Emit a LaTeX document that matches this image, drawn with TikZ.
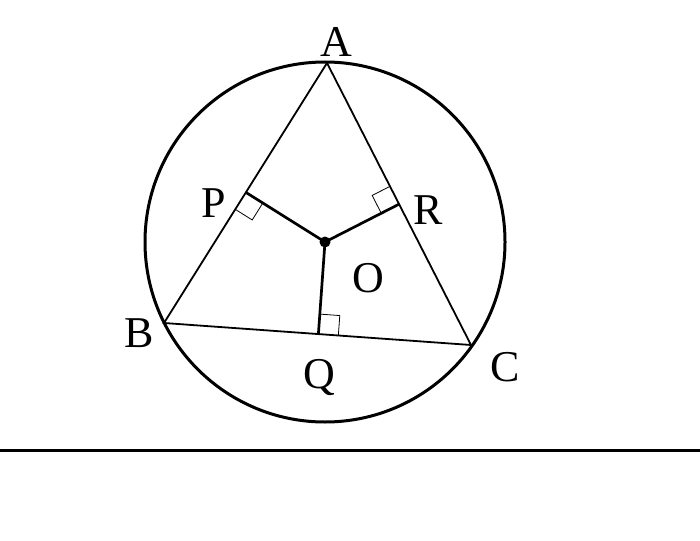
\documentclass[tikz,border=0pt]{standalone}
\usepackage{fontspec}
\setmainfont{Liberation Serif}
\usetikzlibrary{calc}

\tikzset{
  pt label/.style={font=\fontsize{44}{44}\selectfont, inner sep=0pt},
  side line/.style={line width=1.8pt},
  foot line/.style={line width=2.7pt},
  mark line/.style={line width=0.8pt}
}
\newcommand\perpmark[3]{%
  \coordinate (m1) at ($(#1)!20pt!(#2)$);
  \coordinate (m2) at ($(#1)!20pt!(#3)$);
  \draw [mark line](m1) -- ($(m1)+(m2)-(#1)$) -- (m2);}

\begin{document}
\begin{tikzpicture}[x=1pt, y=-1pt]
\useasboundingbox (0,0) rectangle (700,540);
\coordinate (O) at (325,242);
\coordinate (A) at (327,63);
\coordinate (B) at (164,323);
\coordinate (C) at (471,345);
\draw [line width=3pt](O) circle (180pt);
\draw [side line](A) -- (B) -- (C) -- (A);
\coordinate (P) at ($(A)!(O)!(B)$);
\coordinate (R) at ($(A)!(O)!(C)$);
\coordinate (Q) at ($(B)!(O)!(C)$);
\draw [foot line](O) -- (P) (O) -- (R) (O) -- (Q);
\fill (O) circle (5.5pt);
\perpmark{P}{B}{O}
\perpmark{R}{A}{O}
\perpmark{Q}{C}{O}
\node [pt label] (lA) at (336,42) {A};
\node [pt label] (lP) at (214,203) {P};
\node [pt label] (lR) at (428,210) {R};
\node [pt label] (lO) at (368,278) {O};
\node [pt label] (lB) at (139,333) {B};
\node [pt label] (lQ) at (319,377) {Q};
\node [pt label] (lC) at (505,367) {C};
\coordinate (g1) at (0,450);
\coordinate (g2) at (700,450);
\draw [line width=3pt](g1) -- (g2);
\end{tikzpicture}
\end{document}
